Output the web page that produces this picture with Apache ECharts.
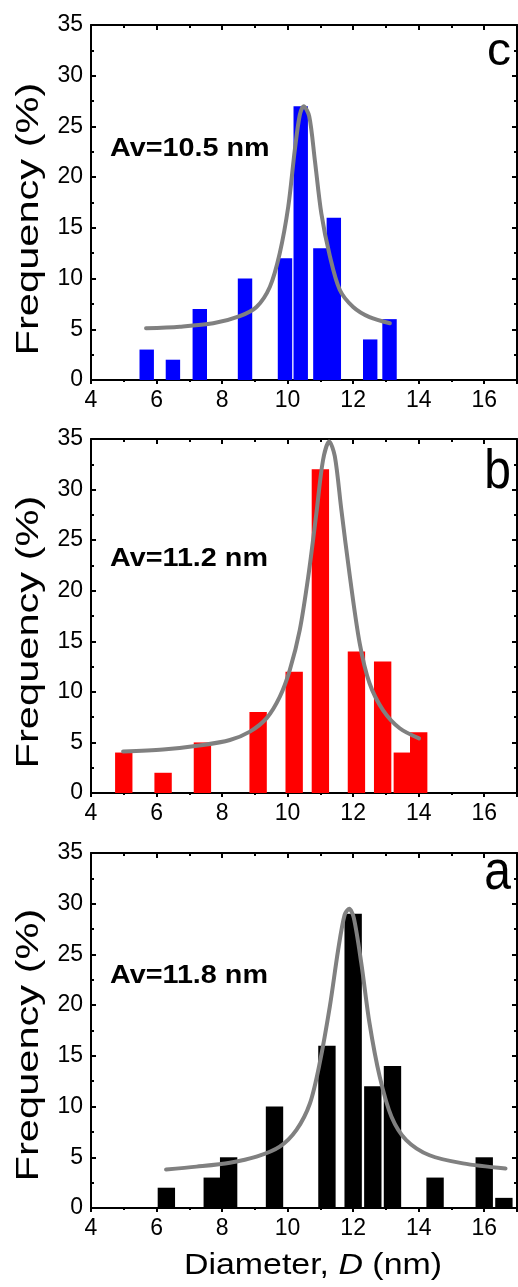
<!DOCTYPE html>
<html>
<head>
<meta charset="utf-8">
<script src="https://cdn.jsdelivr.net/npm/echarts@6/dist/echarts.min.js"></script>
<style>
html,body{margin:0;padding:0;background:#fff;}
#chart{width:518px;height:1287px;}
</style>
</head>
<body>
<div id="chart"></div>
<script>
// ---------- DATA ----------
const xTicks = [4, 17];            // diameter axis range (nm)
const yTicks = [0, 35];            // frequency axis range (%)
const panelLetters = ['c', 'b', 'a'];
const avLabels = ['Av=10.5 nm', 'Av=11.2 nm', 'Av=11.8 nm'];

// panel c (blue)
const centersC = [5.7, 6.5, 7.32, 8.7, 9.92, 10.4, 11.0, 11.41, 12.52, 13.11];
const freqC    = [3, 2, 7, 10, 12, 27, 13, 16, 4, 6];
const binC = 0.44;
const fitC = [[5.68,5.1],[6.71,5.26],[7.73,5.59],[8.54,6.3],[9.05,7.2],[9.46,9.2],[9.76,12.5],[10.02,17.1],[10.22,22.7],[10.37,26.1],[10.49,27.0],[10.66,26.0],[10.83,21.7],[11.03,16.4],[11.29,12.2],[11.59,8.9],[12.0,7.2],[12.5,6.2],[13.12,5.6]];

// panel b (red)
const centersB = [5.0, 6.2, 7.4, 9.1, 10.2, 11.0, 12.1, 12.9, 13.5, 14.0];
const freqB    = [4, 2, 5, 8, 12, 32, 14, 13, 4, 6];
const binB = 0.53;
const fitB = [[4.98,4.1],[6.2,4.3],[7.42,4.75],[8.24,5.24],[8.85,6.07],[9.36,7.4],[9.76,9.5],[10.07,12.2],[10.37,16.1],[10.63,21.4],[10.88,27.7],[11.08,32.9],[11.27,34.75],[11.44,33.3],[11.64,28.0],[11.9,21.4],[12.2,14.8],[12.5,10.85],[12.91,8.2],[13.42,6.4],[14.01,5.4]];

// panel a (black)
const centersA = [6.3, 7.7, 8.2, 9.6, 11.2, 12.0, 12.6, 13.2, 14.5, 16.0, 16.6];
const freqA    = [2, 3, 5, 10, 16, 29, 12, 14, 3, 5, 1];
const binA = 0.53;
const fitA = [[6.29,3.8],[7.22,4.08],[8.24,4.47],[9.05,5.06],[9.76,6.05],[10.27,7.7],[10.68,10.3],[10.98,14.3],[11.29,19.9],[11.54,25.4],[11.74,28.9],[11.88,29.5],[12.02,28.6],[12.25,24.1],[12.5,18.2],[12.81,12.95],[13.17,9.0],[13.62,6.7],[14.33,5.2],[15.35,4.4],[16.65,3.9]];

// ---------- LAYOUT / STYLE ----------
const FONT = "'Liberation Sans', Arial, sans-serif";
const panels = [
  {top: 25,  height: 355, color: '#0000FF', centers: centersC, freq: freqC, bin: binC, fit: fitC},
  {top: 439, height: 354, color: '#FF0000', centers: centersB, freq: freqB, bin: binB, fit: fitB},
  {top: 853, height: 355, color: '#000000', centers: centersA, freq: freqA, bin: binA, fit: fitA}
];
const LEFT = 91, WIDTH = 426;

const grids = [], xAxes = [], yAxes = [], series = [], graphics = [];
const axLine = {show: true, onZero: false, lineStyle: {color: '#000', width: 2}};

panels.forEach((p, i) => {
  grids.push({left: LEFT, top: p.top, width: WIDTH, height: p.height, containLabel: false});
  const xb = 2 * i, yb = 2 * i;
  xAxes.push({
    gridIndex: i, type: 'value', position: 'bottom', min: xTicks[0], max: xTicks[1], interval: 2,
    axisLine: axLine,
    axisTick: {show: true, inside: false, length: 4, lineStyle: {color: '#000', width: 2}},
    minorTick: {show: true, splitNumber: 2, length: 2, lineStyle: {color: '#000', width: 2}},
    splitLine: {show: false}, minorSplitLine: {show: false},
    axisLabel: {show: true, color: '#000', fontSize: 23, fontFamily: FONT, margin: 9, showMaxLabel: false,
      formatter: v => (v % 2 === 0 ? String(v) : '')}
  });
  xAxes.push({
    gridIndex: i, type: 'value', position: 'top', min: xTicks[0], max: xTicks[1], interval: 2,
    axisLine: axLine,
    axisTick: {show: true, inside: true, length: 5, lineStyle: {color: '#000', width: 2}},
    minorTick: {show: true, splitNumber: 2, length: 3, lineStyle: {color: '#000', width: 2}},
    splitLine: {show: false}, axisLabel: {show: false}
  });
  yAxes.push({
    gridIndex: i, type: 'value', position: 'left', min: yTicks[0], max: yTicks[1], interval: 5,
    axisLine: axLine,
    axisTick: {show: true, inside: true, length: 5, lineStyle: {color: '#000', width: 2}},
    minorTick: {show: true, splitNumber: 2, length: 3, lineStyle: {color: '#000', width: 2}},
    splitLine: {show: false},
    axisLabel: {show: true, color: '#000', fontSize: 23, fontFamily: FONT, margin: 8}
  });
  yAxes.push({
    gridIndex: i, type: 'value', position: 'right', min: yTicks[0], max: yTicks[1], interval: 5,
    axisLine: axLine,
    axisTick: {show: true, inside: true, length: 5, lineStyle: {color: '#000', width: 2}},
    minorTick: {show: true, splitNumber: 2, length: 3, lineStyle: {color: '#000', width: 2}},
    splitLine: {show: false}, axisLabel: {show: false}
  });

  const w = p.bin, col = p.color;
  series.push({
    type: 'custom', coordinateSystem: 'cartesian2d', xAxisIndex: xb, yAxisIndex: yb,
    data: p.centers.map((c, k) => [c, p.freq[k]]),
    encode: {x: 0, y: 1},
    renderItem: function (params, api) {
      const c = api.value(0), v = api.value(1);
      const p0 = api.coord([c - w / 2, v]);
      const p1 = api.coord([c + w / 2, 0]);
      return {type: 'rect', shape: {x: p0[0], y: p0[1], width: p1[0] - p0[0], height: p1[1] - p0[1]},
        style: {fill: col}};
    },
    z: 2, silent: true
  });
  series.push({
    type: 'line', xAxisIndex: xb, yAxisIndex: yb, data: p.fit, smooth: 0.3,
    showSymbol: false, symbol: 'none',
    lineStyle: {color: '#808080', width: 4, cap: 'round', join: 'round'}, z: 3, silent: true
  });
});

// y-axis titles
const yTitleCenters = [219, 632, 1045];
yTitleCenters.forEach(cy => {
  graphics.push({type: 'text', x: 29, y: cy, rotation: Math.PI / 2, scaleX: 1.3, scaleY: 1,
    style: {text: 'Frequency (%)', font: '32px ' + FONT, fill: '#000', align: 'center', verticalAlign: 'middle'}});
});
// x-axis title
graphics.push({type: 'text', x: 313, y: 1266, scaleX: 1.13,
  style: {text: '{n|Diameter, }{i|D}{n| (nm)}', align: 'center', verticalAlign: 'middle',
    rich: {n: {fontSize: 30, fontFamily: FONT, fill: '#000'}, i: {fontSize: 30, fontFamily: FONT, fontStyle: 'italic', fill: '#000'}}}});
// average labels
const avY = [149.5, 559.5, 976.5];
avLabels.forEach((t, i) => {
  graphics.push({type: 'text', x: 110, y: avY[i], scaleX: 1.15,
    style: {text: t, font: 'bold 25px ' + FONT, fill: '#000', align: 'left', verticalAlign: 'middle'}});
});
// panel letters
const letterY = [52, 472.6, 874];
const letterSY = [0.95, 1.15, 1.15];
panelLetters.forEach((t, i) => {
  graphics.push({type: 'text', x: 511, y: letterY[i], scaleY: letterSY[i],
    style: {text: t, font: '48px ' + FONT, fill: '#000', align: 'right', verticalAlign: 'middle'}});
});

const chart = echarts.init(document.getElementById('chart'), null, {renderer: 'canvas'});
chart.setOption({
  animation: false,
  backgroundColor: '#fff',
  grid: grids, xAxis: xAxes, yAxis: yAxes, series: series, graphic: graphics
});
</script>
</body>
</html>
